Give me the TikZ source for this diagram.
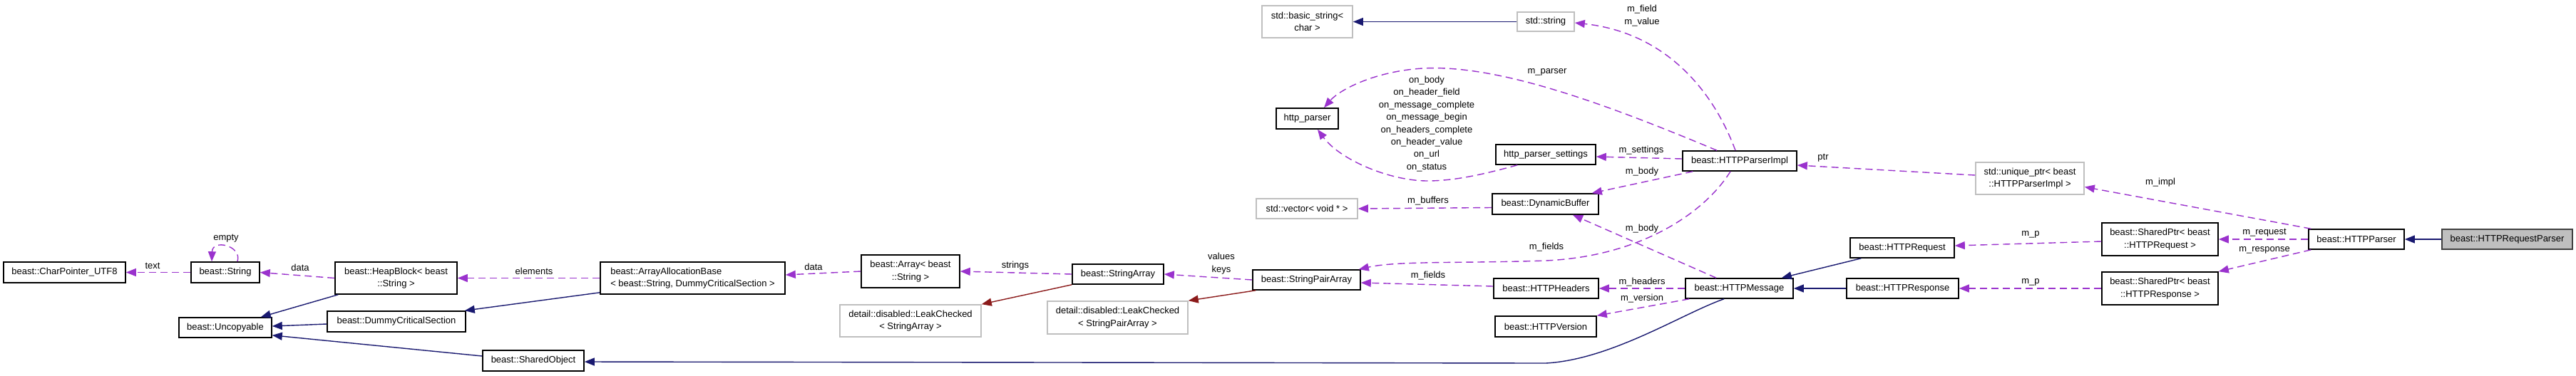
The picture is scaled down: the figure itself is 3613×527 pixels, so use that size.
\documentclass[tikz,border=0pt]{standalone}
\usepackage{fontspec}
\setmainfont{Liberation Sans}
\usetikzlibrary{arrows.meta}
\definecolor{usecol}{HTML}{9A32CD}
\definecolor{inhcol}{HTML}{191970}
\definecolor{leakcol}{HTML}{8B1A1A}
\definecolor{extgray}{HTML}{BFBFBF}
\definecolor{selfill}{HTML}{BFBFBF}
\newcommand\lblfont{\fontsize{6.5pt}{8.7pt}\selectfont}
\tikzset{
  cls/.style={draw=black, line width=0.8pt, rectangle, inner sep=0pt, font=\lblfont, align=center, fill=white},
  ext/.style={cls, draw=extgray},
  sel/.style={cls, fill=selfill, draw=black!75},
  usage/.style={draw=usecol, line width=0.7pt, dash pattern=on 5pt off 3pt, -{Triangle[length=7pt,width=5.5pt]}},
  inh/.style={draw=inhcol, line width=0.7pt, -{Triangle[length=7pt,width=5.5pt]}},
  leak/.style={draw=leakcol, line width=0.7pt, -{Triangle[length=7pt,width=5.5pt]}},
  elab/.style={font=\lblfont, inner sep=0pt, align=center}
}
\begin{document}
\begin{tikzpicture}[x=0.5pt,y=-0.5pt]
\useasboundingbox (0,0) rectangle (3613,527);
\fill[white] (0,0) rectangle (3613,527);

% nodes
\node[cls, minimum width=85.5pt, minimum height=14.5pt] (cp) at (90.5,382.5) {beast::CharPointer\_UTF8};
\node[cls, minimum width=48pt, minimum height=14.5pt] (str) at (316,382.5) {beast::String};
\node[cls, minimum width=85.5pt, minimum height=22.5pt] (heap) at (555.5,390.5) {beast::HeapBlock< beast\\::String >};
\node[cls, minimum width=65pt, minimum height=14pt] (unc) at (316,460) {beast::Uncopyable};
\node[cls, minimum width=97pt, minimum height=14.5pt] (dcs) at (556,451.5) {beast::DummyCriticalSection};
\node[cls, minimum width=129.5pt, minimum height=22.5pt, align=left] (aab) at (971.5,390.5) {beast::ArrayAllocationBase\\< beast::String, DummyCriticalSection >};
\node[cls, minimum width=71pt, minimum height=14.5pt] (so) at (748,506.5) {beast::SharedObject};
\node[cls, minimum width=69pt, minimum height=23pt] (arr) at (1277,381) {beast::Array< beast\\::String >};
\node[ext, minimum width=99pt, minimum height=22.5pt] (lcsa) at (1277,450.5) {detail::disabled::LeakChecked\\< StringArray >};
\node[cls, minimum width=64pt, minimum height=14pt] (sa) at (1568,385) {beast::StringArray};
\node[ext, minimum width=98.5pt, minimum height=23pt] (lcspa) at (1567.5,446) {detail::disabled::LeakChecked\\< StringPairArray >};
\node[cls, minimum width=75.5pt, minimum height=14pt] (spa) at (1832.5,393) {beast::StringPairArray};
\node[ext, minimum width=71pt, minimum height=14pt] (vec) at (1833,293) {std::vector< void * >};
\node[ext, minimum width=63.5pt, minimum height=22.5pt] (bstr) at (1833.5,30.5) {std::basic\_string<\\char >};
\node[ext, minimum width=40pt, minimum height=13.5pt] (sstr) at (2168,30.5) {std::string};
\node[cls, minimum width=43.5pt, minimum height=14.5pt] (hp) at (1833.5,166.5) {http\_parser};
\node[cls, minimum width=70pt, minimum height=14pt] (hps) at (2168,217) {http\_parser\_settings};
\node[cls, minimum width=74.5pt, minimum height=14.5pt] (db) at (2167.5,286.5) {beast::DynamicBuffer};
\node[cls, minimum width=73.5pt, minimum height=14pt] (hh) at (2168.5,405) {beast::HTTPHeaders};
\node[cls, minimum width=71pt, minimum height=14.5pt] (hv) at (2168,458.5) {beast::HTTPVersion};
\node[cls, minimum width=80pt, minimum height=14pt] (hpi) at (2440,226) {beast::HTTPParserImpl};
\node[cls, minimum width=75.5pt, minimum height=14pt] (hm) at (2439.5,405) {beast::HTTPMessage};
\node[cls, minimum width=73pt, minimum height=14pt] (hreq) at (2668,348) {beast::HTTPRequest};
\node[cls, minimum width=78.5pt, minimum height=14pt] (hresp) at (2668.5,405) {beast::HTTPResponse};
\node[ext, minimum width=76pt, minimum height=22.5pt] (uptr) at (2847,250.5) {std::unique\_ptr< beast\\::HTTPParserImpl >};
\node[cls, minimum width=81.5pt, minimum height=23pt] (spreq) at (3029.5,336) {beast::SharedPtr< beast\\::HTTPRequest >};
\node[cls, minimum width=81.5pt, minimum height=23pt] (spresp) at (3029.5,405) {beast::SharedPtr< beast\\::HTTPResponse >};
\node[cls, minimum width=67pt, minimum height=14pt] (hpar) at (3305,336) {beast::HTTPParser};
\node[sel, minimum width=91.5pt, minimum height=14pt] (hrp) at (3516.5,336) {beast::HTTPRequestParser};

% usage edges
\draw[usage] (str) -- (cp);
\draw[usage] ([xshift=8.5pt]str.north) .. controls (340,345) and (298,335) .. ([xshift=-9.5pt]str.north);
\draw[usage] (heap.west) -- (str.east);
\draw[usage] (aab.west) -- (heap.east);
\draw[usage] (arr.west) -- ([yshift=2.25pt]aab.east);
\draw[usage] (sa.west) -- (arr.east);
\draw[usage] (spa.west) -- (sa.east);
\draw[usage] ([yshift=-2.5pt]db.west) -- (vec.east);
\draw[usage] ([yshift=1.5pt]hpi.west) -- ([yshift=-1.5pt]hps.east);
\draw[usage] ([xshift=7.5pt]hpi.south west) -- ([xshift=-5pt]db.north east);
\draw[usage] ([xshift=-16pt]hpi.north) .. controls (2250,145) and (2100,90) .. (1995,96) .. controls (1930,100) and (1880,125) .. ([xshift=11.75pt]hp.north);
\draw[usage] ([xshift=15.5pt]hps.south west) .. controls (2080,245) and (2040,254) .. (2002,254) .. controls (1950,254) and (1880,225) .. ([xshift=7.25pt]hp.south);
\draw[usage] ([xshift=-3pt]hpi.north) .. controls (2400,120) and (2330,45) .. ([yshift=-0.75pt]sstr.east);
\draw[usage] ([xshift=-6.5pt]hpi.south) .. controls (2390,300) and (2300,360) .. (2168,366) .. controls (2050,370) and (1960,366) .. ([xshift=-1.5pt]spa.north east);
\draw[usage] ([xshift=-16.25pt]hm.north) -- ([xshift=19.25pt]db.south);
\draw[usage] ([yshift=1.5pt]hh.west) -- ([yshift=-2pt]spa.east);
\draw[usage] (hm.west) -- (hh.east);
\draw[usage] ([xshift=3pt]hm.south west) -- (hv.north east);
\draw[usage] ([yshift=2.25pt]uptr.west) -- ([yshift=-3pt]hpi.east);
\draw[usage] ([yshift=-1.5pt]spreq.west) -- ([yshift=1.5pt]hreq.east);
\draw[usage] (spresp.west) -- (hresp.east);
\draw[usage] ([xshift=2pt]hpar.north west) -- ([yshift=-6pt]uptr.east);
\draw[usage] (hpar.west) -- (spreq.east);
\draw[usage] ([xshift=2pt]hpar.south west) -- (spresp.north east);

% inheritance edges
\draw[inh] ([xshift=2.5pt]heap.south west) -- ([xshift=-8pt]unc.north east);
\draw[inh] ([yshift=-1.75pt]dcs.west) -- ([yshift=1pt]unc.east);
\draw[inh] ([yshift=3.25pt]so.west) -- ([yshift=2pt]unc.south east);
\draw[inh] ([yshift=1.5pt]aab.south west) -- ([xshift=-1pt]dcs.north east);
\draw[inh] (sstr.west) -- (bstr.east);
\draw[inh] ([xshift=-10.75pt]hm.south) .. controls (2360,440) and (2260,505) .. (2168,510) -- ([yshift=-0.75pt]so.east);
\draw[inh] ([xshift=8pt]hreq.south west) -- ([xshift=-8.5pt]hm.north east);
\draw[inh] (hresp.west) -- (hm.east);
\draw[inh] (hrp.west) -- (hpar.east);
\draw[leak] (sa.south west) -- (lcsa.north east);
\draw[leak] ([xshift=2.5pt]spa.south west) -- (lcspa.north east);

% edge labels
\node[elab] (l1) at (214,373) {text};
\node[elab] (l2) at (317,335) {empty};
\node[elab] (l3) at (421,376) {data};
\node[elab] (l4) at (749,381) {elements};
\node[elab] (l5) at (1141,375) {data};
\node[elab] (l6) at (1424,373) {strings};
\node[elab] (l7) at (1713,370) {values\\keys};
\node[elab] (l8) at (2003,282) {m\_buffers};
\node[elab] (l9) at (2302,211) {m\_settings};
\node[elab] (l10) at (2303,241) {m\_body};
\node[elab] (l11) at (2170,101) {m\_parser};
\node[elab] (l12) at (2001,174) {on\_body\\on\_header\_field\\on\_message\_complete\\on\_message\_begin\\on\_headers\_complete\\on\_header\_value\\on\_url\\on\_status};
\node[elab] (l13) at (2303,22) {m\_field\\m\_value};
\node[elab] (l14) at (2169,347) {m\_fields};
\node[elab] (l15) at (2303,321) {m\_body};
\node[elab] (l16) at (2003,387) {m\_fields};
\node[elab] (l17) at (2303,396) {m\_headers};
\node[elab] (l18) at (2303,419) {m\_version};
\node[elab] (l19) at (2557,222) {ptr};
\node[elab] (l20) at (2848,329) {m\_p};
\node[elab] (l21) at (2848,396) {m\_p};
\node[elab] (l22) at (3030,256) {m\_impl};
\node[elab] (l23) at (3176,327) {m\_request};
\node[elab] (l24) at (3176,351) {m\_response};
\end{tikzpicture}
\end{document}
